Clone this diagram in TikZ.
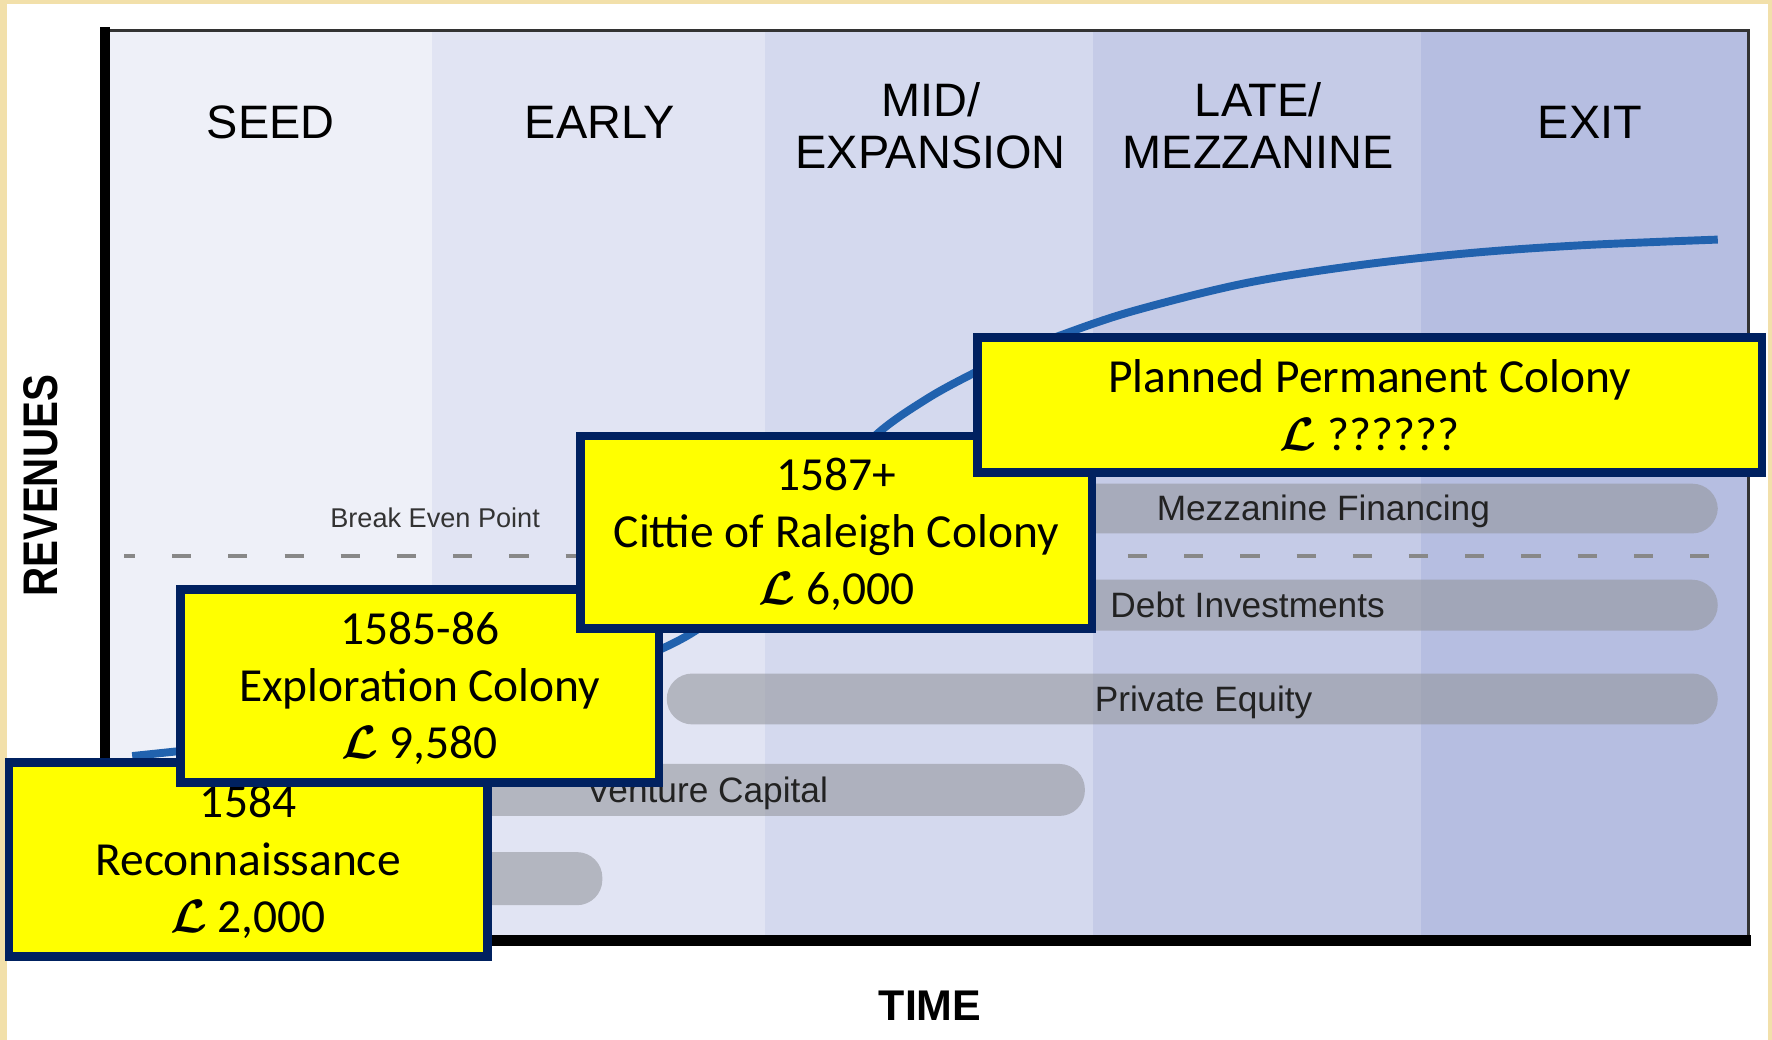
\documentclass[tikz,border=0pt]{standalone}
\usepackage{fontspec}
\setmainfont{Liberation Sans}
\newfontfamily\boxfont{Carlito}
\definecolor{navy}{RGB}{0,33,96}
\definecolor{beige}{RGB}{242,224,170}
\definecolor{colA}{RGB}{238,240,248}
\definecolor{colB}{RGB}{225,228,243}
\definecolor{colC}{RGB}{212,217,238}
\definecolor{colD}{RGB}{197,203,231}
\definecolor{colE}{RGB}{182,190,225}
\definecolor{curveblue}{RGB}{33,98,174}
\definecolor{bargray}{RGB}{147,149,156}
\definecolor{darktxt}{RGB}{34,34,34}
\definecolor{dashgray}{RGB}{136,136,136}
\definecolor{framegray}{RGB}{51,51,51}
\definecolor{boxyellow}{RGB}{255,255,0}
\newcommand{\firststrut}{\rule{0pt}{16.5pt}}
\newcommand{\poundL}{{\boldmath$\mathcal{L}$}}
\begin{document}
\begin{tikzpicture}[x=0.5pt,y=-0.5pt,
  yellowbox/.style={draw=navy, line width=3.75pt, fill=boxyellow, inner sep=0pt, align=center,
    font=\boxfont\fontsize{21}{25.25}\selectfont},
  header/.style={font=\fontsize{20.75}{23}\selectfont, align=center, text=black},
  barlabel/.style={font=\fontsize{15.6}{18}\selectfont, text=darktxt, inner sep=0pt},
  bar/.style={fill=bargray, fill opacity=0.58, draw=none, rounded corners=11.25pt}
]
\useasboundingbox (0,0) rectangle (1568,920);
% background and frame
\fill[white] (0,0) rectangle (1568,920);
\fill[beige] (0,0) rectangle (1568,3.5);
\fill[beige] (0,0) rectangle (6,920);
\fill[beige] (1564.5,0) rectangle (1568,920);
% stage columns
\fill[colA] (97,28) rectangle (382,828);
\fill[colB] (382,28) rectangle (677,828);
\fill[colC] (677,28) rectangle (967.5,828);
\fill[colD] (967.5,28) rectangle (1257.5,828);
\fill[colE] (1257.5,28) rectangle (1547.5,828);
% frame lines and axes
\draw[line width=1.25pt, framegray] (93,27) -- (1547.5,27) -- (1547.5,832);
\draw[line width=4.5pt, black] (93,24) -- (93,837.5);
\draw[line width=5pt, black] (88.5,832.5) -- (1549,832.5);
% headers
\node[header] (seed) at (239.5,108) {SEED};
\node[header] (early) at (531,108) {EARLY};
\node[header] (mid) at (823.5,111) {MID/\\EXPANSION};
\node[header] (late) at (1113.5,111) {LATE/\\MEZZANINE};
\node[header] (exit) at (1407,108) {EXIT};
% axis labels
\node[font=\bfseries\fontsize{21.5}{24}\selectfont, rotate=90] (rev) at (36,430) {\scalebox{0.83}[1]{REVENUES}};
\node[font=\bfseries\fontsize{19}{22}\selectfont] (time) at (823,890) {TIME};
% break even line
\draw[dashgray, line width=1.4pt, dash pattern=on 8.5pt off 16.375pt, dash phase=3.75pt] (110,492) -- (1520,492);
\node[font=\fontsize{12}{14}\selectfont, text=framegray, anchor=base, inner sep=0pt] (bep) at (385,466.5) {Break Even Point};
% financing bars
\path[bar] (105,754) rectangle (533,801);
\path[bar] (300,676) rectangle (960,722);
\path[bar] (590,596) rectangle (1520,641);
\path[bar] (880,513) rectangle (1520,558);
\path[bar] (940,428) rectangle (1520,472);
\node[barlabel, anchor=base] (mezzlbl) at (1171,461) {Mezzanine Financing};
\node[barlabel, anchor=base] (debtlbl) at (1104,546) {Debt Investments};
\node[barlabel, anchor=base] (pelbl) at (1065,629.5) {Private Equity};
\node[barlabel, anchor=base east] (vclbl) at (733,710) {Venture Capital};
% revenue curve
\draw[curveblue, line width=3.5pt] plot[smooth, tension=0.55] coordinates {(117,669) (200,660) (300,647) (400,630) (500,605) (560,585) (620,555) (680,500) (730,435) (775,385) (820,353) (862,330) (900,312) (935,298) (1000,276) (1100,251) (1200,235) (1300,224) (1400,217) (1520,212)};
% yellow boxes
\node[yellowbox, minimum width=211.75pt, minimum height=85.75pt] (recon) at (219.5,760.5)
  {\firststrut 1584\\Reconnaissance\\\poundL{} 2,000};
\node[yellowbox, minimum width=211.75pt, minimum height=85.25pt] (explo) at (371.5,607)
  {\firststrut 1585-86\\Exploration Colony\\\poundL{} 9,580};
\node[yellowbox, minimum width=226.25pt, minimum height=85.25pt] (cittie) at (740,471)
  {\firststrut 1587+\\Cittie of Raleigh Colony\\\poundL{} 6,000};
\node[yellowbox, minimum width=347.25pt, minimum height=59.75pt, font=\boxfont\fontsize{21}{25.75}\selectfont] (planned) at (1212,358.5)
  {Planned Permanent Colony\\\poundL{} ??????};
\end{tikzpicture}
\end{document}
